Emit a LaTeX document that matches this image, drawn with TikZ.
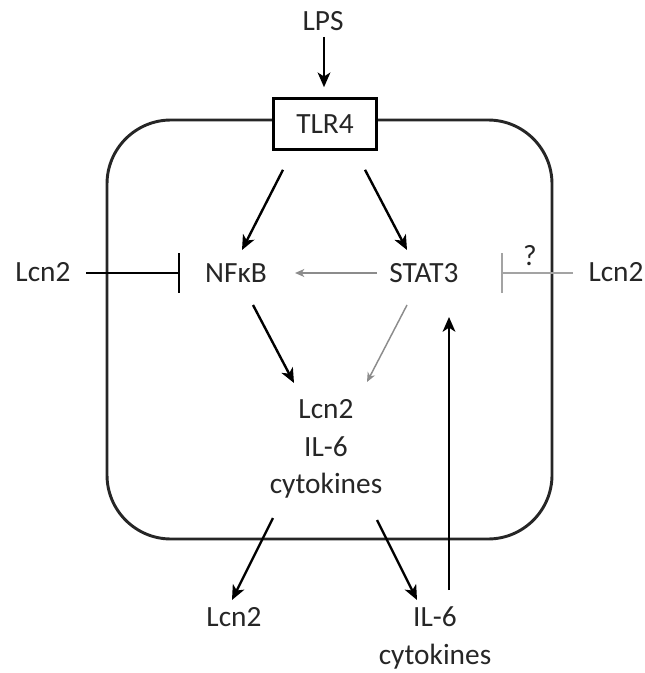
\documentclass[tikz,border=0pt]{standalone}
\usepackage{fontspec}
\setmainfont{Carlito}
\usetikzlibrary{arrows.meta,calc}
\definecolor{txt}{HTML}{262626}
\definecolor{lgray}{HTML}{8C8C8C}
\tikzset{
  lbl/.style={inner sep=0pt, text=txt, font=\fontsize{22pt}{28pt}\selectfont},
  arr/.style={line width=1.8pt, black, -{Stealth[length=11pt,width=9.5pt,inset=3pt]}},
  garr/.style={line width=1.1pt, lgray, -{Stealth[length=7pt,width=6pt,inset=2pt]}},
  inh/.style={line width=1.8pt, black, -{Bar[width=30pt,line width=1.8pt]}},
  ginh/.style={line width=1.3pt, lgray!80, -{Bar[width=30pt,line width=1.5pt]}},
  cellwall/.style={line width=2.2pt, draw=black!85, rounded corners=48pt},
  receptor/.style={draw=black, line width=2.2pt, fill=white, minimum width=77pt, minimum height=38pt, inner sep=0pt, text=txt, font=\fontsize{22pt}{28pt}\selectfont}
}
\begin{document}
\begin{tikzpicture}[x=0.75pt,y=-0.75pt]
\useasboundingbox (0,0) rectangle (644,673);
% cell
\draw[cellwall] (107,120) rectangle (552,539);
% nodes
\node[lbl] (lps) at (323,21) {LPS};
\node[receptor] (tlr4) at (325,124) {TLR4};
\node[lbl] (nfkb) at (236,273) {NFκB};
\node[lbl] (stat3) at (424,273) {STAT3};
\node[lbl] (lcnL) at (43,272) {Lcn2};
\node[lbl] (lcnR) at (616,272) {Lcn2};
\node[lbl] (q) at (530,256) {?};
\node[lbl, align=center] (out) at (326,449) {Lcn2\\IL-6\\cytokines};
\node[lbl] (lcnOut) at (234,617) {Lcn2};
\node[lbl, align=center] (il6Out) at (435,638) {IL-6\\cytokines};
% connectors
\draw[arr] ($(lps.center)+(1,16)$) -- ($(tlr4.north)+(-1,-10)$);
\draw[arr] ($(tlr4.south)+(-42,19)$) -- ($(nfkb.center)+(6,-23)$);
\draw[arr] ($(tlr4.south)+(40,19)$) -- ($(stat3.center)+(-17,-23)$);
\draw[garr] ($(stat3.center)+(-47,0)$) -- ($(nfkb.center)+(59,0)$);
\draw[arr] ($(nfkb.center)+(17,32)$) -- ($(out.center)+(-32,-66)$);
\draw[garr] ($(stat3.center)+(-17,32)$) -- ($(out.center)+(41,-67)$);
\draw[arr] ($(out.center)+(-53,69)$) -- ($(lcnOut.center)+(-2,-17)$);
\draw[arr] ($(out.center)+(51,71)$) -- ($(il6Out.center)+(-18,-38)$);
\draw[arr] ($(il6Out.center)+(14,-48)$) -- ($(stat3.center)+(25,44)$);
\draw[inh] ($(lcnL.center)+(43,1)$) -- ($(nfkb.center)+(-56,0)$);
\draw[ginh] ($(lcnR.center)+(-43,1)$) -- ($(stat3.center)+(77,0)$);
\end{tikzpicture}
\end{document}
